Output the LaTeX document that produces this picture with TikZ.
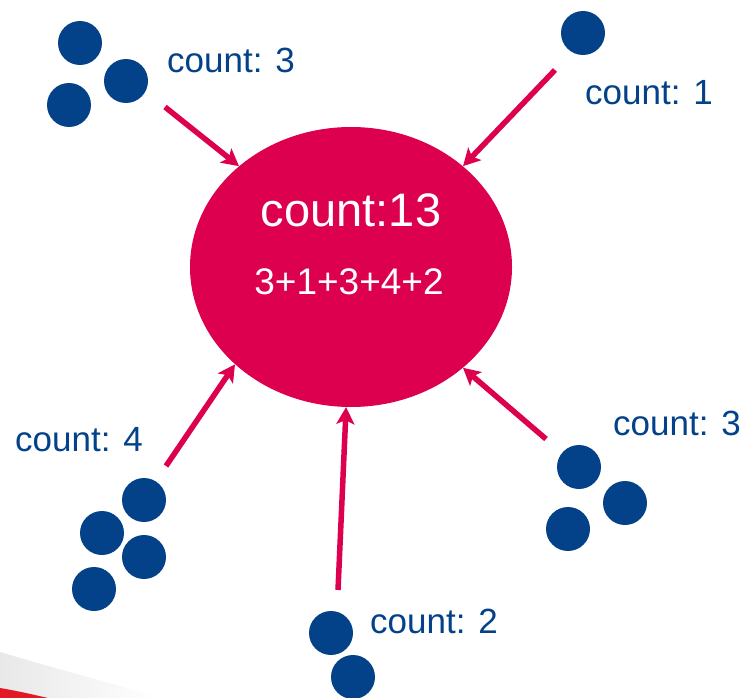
\documentclass[tikz,border=0pt]{standalone}
\usepackage{fontspec}
\setmainfont{Liberation Sans}
\usetikzlibrary{arrows.meta, positioning, shapes.geometric}
\definecolor{crimson}{RGB}{220,0,78}
\definecolor{navy}{RGB}{3,65,137}
\definecolor{swoosh}{RGB}{226,24,36}
\tikzset{
	dot/.style={circle, fill=navy, minimum size=44pt, inner sep=0pt}, % one element of a partition
	countlabel/.style={text=navy, anchor=base west, inner sep=0pt, font=\fontsize{35}{40}\selectfont},
	feed/.style={-{Stealth[length=17pt, width=18pt, inset=4pt]}, line width=5.5pt, draw=crimson}, % partial count into the total
}

\begin{document}
\begin{tikzpicture}[x=1pt, y=-1pt]
	\useasboundingbox (0,0) rectangle (749,698);
	% corner of the slide background
	\shade[left color=gray!18, right color=white] (0,652) .. controls (60,670) and (120,685) .. (160,698) -- (0,698) -- cycle;
	\fill[swoosh] (0,688) .. controls (18,691) and (35,695) .. (48,698) -- (0,698) -- cycle;

	% the merged total
	\node[ellipse, fill=crimson, minimum width=322pt, minimum height=280pt, inner sep=0pt] (total) at (351,267) {};
	\node[text=white, anchor=base, inner sep=0pt, font=\fontsize{47}{52}\selectfont] (totaltext) at (351,226) {count:13};
	\node[text=white, anchor=base, inner sep=0pt, font=\fontsize{37}{42}\selectfont] (sumtext) at (349,294) {3+1+3+4+2};

	% top left: 3
	\node[dot] (a1) at (80,43) {};
	\node[dot] (a2) at (126,81) {};
	\node[dot] (a3) at (69,105) {};
	\node[countlabel] (la) at (167,73) {count: 3};
	\coordinate (fa) at (165,107);

	% top right: 1
	\node[dot] (b1) at (583,33) {};
	\node[countlabel] (lb) at (585,105) {count: 1};
	\coordinate (fb) at (555,70);

	% bottom left: 4
	\node[dot] (c1) at (144,500) {};
	\node[dot] (c2) at (102,533) {};
	\node[dot] (c3) at (144,557) {};
	\node[dot] (c4) at (94,589) {};
	\node[countlabel] (lc) at (15,451) {count: 4};
	\coordinate (fc) at (166,466);

	% bottom: 2
	\node[dot] (d1) at (331,633) {};
	\node[dot] (d2) at (353,677) {};
	\node[countlabel] (ld) at (370,633) {count: 2};
	\coordinate (fd) at (338,590);

	% bottom right: 3
	\node[dot] (e1) at (579,467) {};
	\node[dot] (e2) at (625,503) {};
	\node[dot] (e3) at (568,529) {};
	\node[countlabel] (le) at (613,435) {count: 3};
	\coordinate (fe) at (546,439);

	\draw[feed] (fa) -- (total.138.7);
	\draw[feed] (fb) -- (total.42.5);
	\draw[feed] (fc) -- (total.220.7);
	\draw[feed] (fd) -- (total.268.8);
	\draw[feed] (fe) -- (total.318.3);
\end{tikzpicture}
\end{document}
